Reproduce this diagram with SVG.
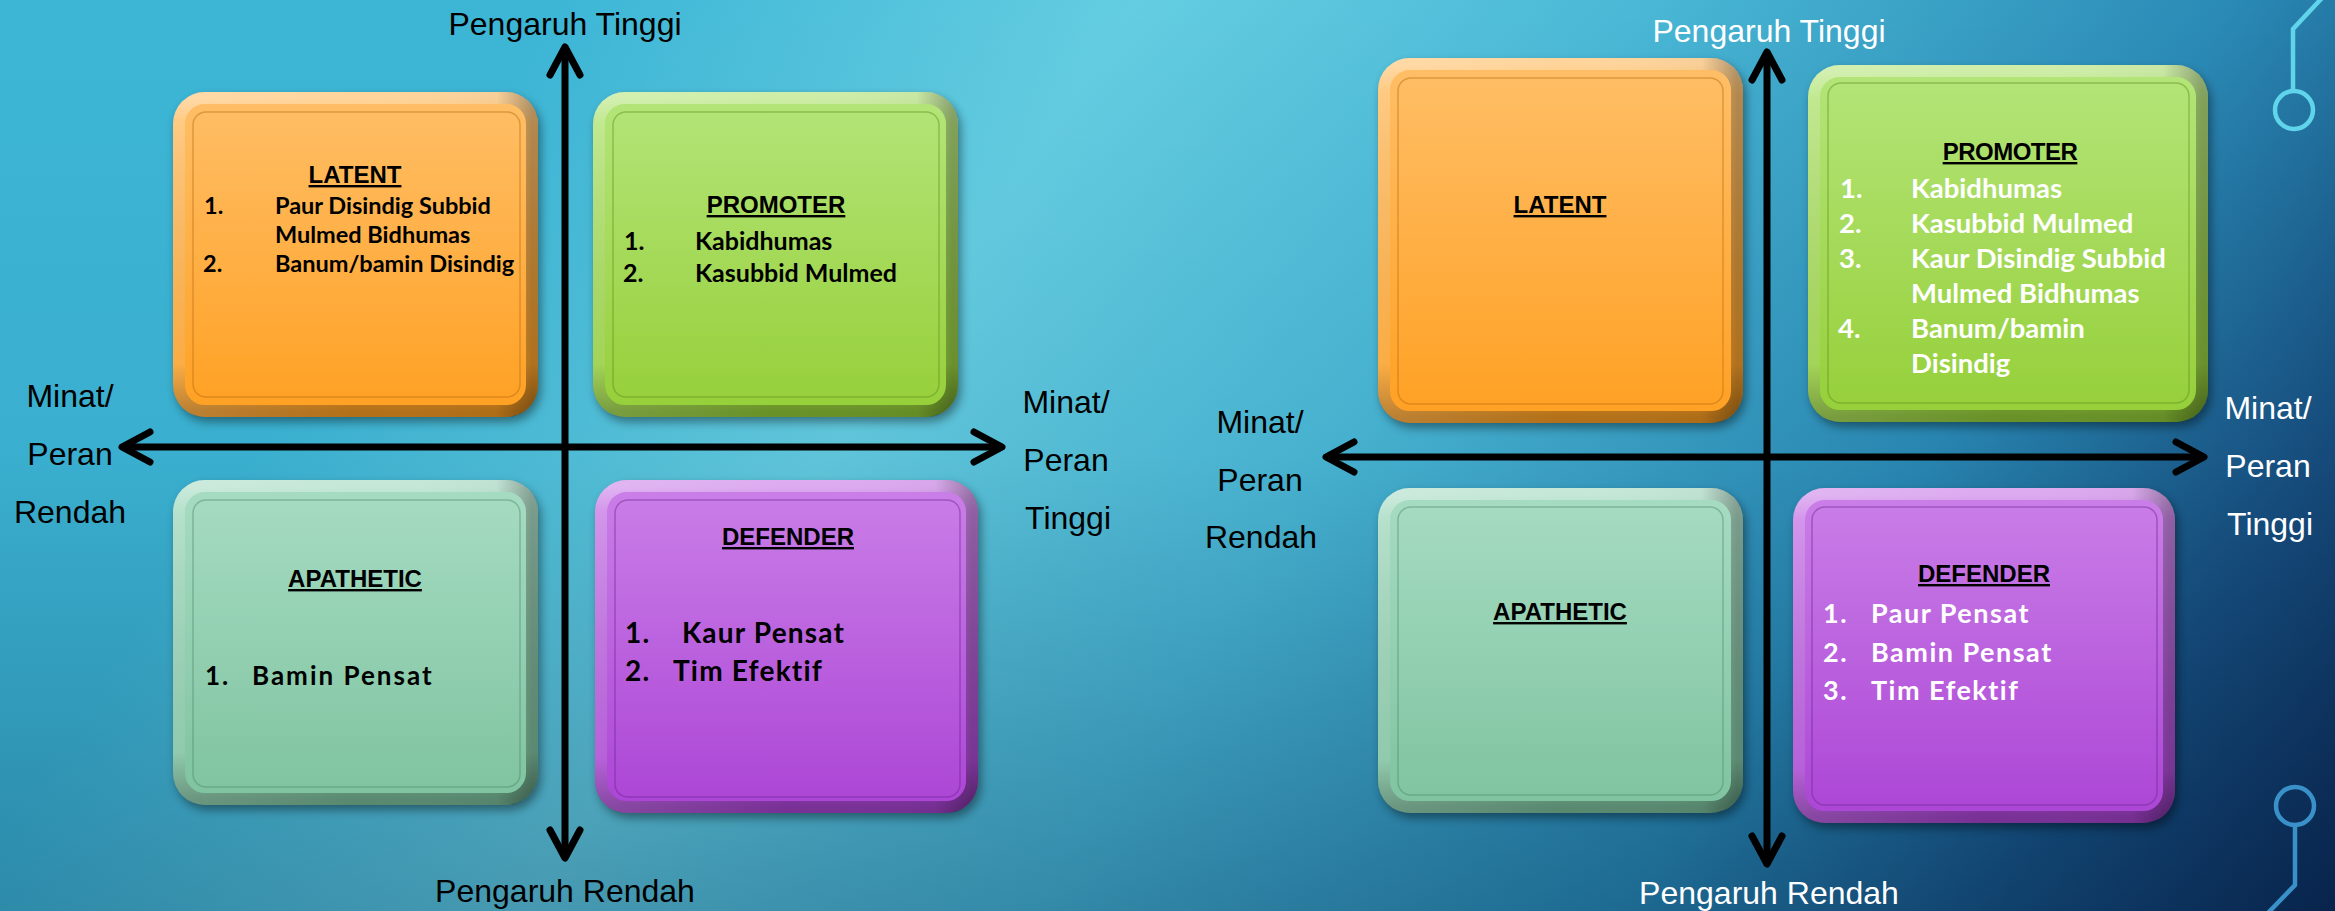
<svg xmlns="http://www.w3.org/2000/svg" width="2335" height="911" viewBox="0 0 2335 911">
<defs>
  <linearGradient id="bg" gradientUnits="userSpaceOnUse" x1="700" y1="-200" x2="2335" y2="911">
    <stop offset="0" stop-color="#3db6d6"/>
    <stop offset="0.24" stop-color="#64cde1"/>
    <stop offset="0.45" stop-color="#4ab8d6"/>
    <stop offset="0.7" stop-color="#2a8ab5"/>
    <stop offset="0.86" stop-color="#174f80"/>
    <stop offset="1" stop-color="#0b2550"/>
  </linearGradient>
  <linearGradient id="bgShade" x1="0" y1="0" x2="0" y2="1">
    <stop offset="0" stop-color="#002040" stop-opacity="0"/>
    <stop offset="0.5" stop-color="#002040" stop-opacity="0.05"/>
    <stop offset="1" stop-color="#002040" stop-opacity="0.3"/>
  </linearGradient>
  <linearGradient id="gOrange" x1="0" y1="0" x2="0" y2="1">
    <stop offset="0" stop-color="#ffbf68"/>
    <stop offset="1" stop-color="#ffa022"/>
  </linearGradient>
  <linearGradient id="gGreen" x1="0" y1="0" x2="0" y2="1">
    <stop offset="0" stop-color="#b4e57a"/>
    <stop offset="1" stop-color="#95cf38"/>
  </linearGradient>
  <linearGradient id="gMint" x1="0" y1="0" x2="0" y2="1">
    <stop offset="0" stop-color="#a7dcc3"/>
    <stop offset="1" stop-color="#7ec39f"/>
  </linearGradient>
  <linearGradient id="gPurple" x1="0" y1="0" x2="0" y2="1">
    <stop offset="0" stop-color="#cb80e8"/>
    <stop offset="1" stop-color="#ab44d5"/>
  </linearGradient>
  <linearGradient id="bevelV" x1="0" y1="0" x2="0" y2="1">
    <stop offset="0" stop-color="#ffffff" stop-opacity="0.35"/>
    <stop offset="0.08" stop-color="#ffffff" stop-opacity="0.1"/>
    <stop offset="0.85" stop-color="#000000" stop-opacity="0.02"/>
    <stop offset="1" stop-color="#000000" stop-opacity="0.3"/>
  </linearGradient>
  <linearGradient id="bevelH" x1="0" y1="0" x2="1" y2="0">
    <stop offset="0" stop-color="#ffffff" stop-opacity="0.12"/>
    <stop offset="0.5" stop-color="#ffffff" stop-opacity="0"/>
    <stop offset="0.9" stop-color="#000000" stop-opacity="0.03"/>
    <stop offset="1" stop-color="#000000" stop-opacity="0.3"/>
  </linearGradient>
  <filter id="shadow" x="-10%" y="-10%" width="130%" height="130%">
    <feGaussianBlur stdDeviation="5"/>
  </filter>
  <marker id="chev" viewBox="-40 -25 50 50" markerWidth="50" markerHeight="50" refX="0" refY="0" orient="auto-start-reverse" markerUnits="userSpaceOnUse">
    <path d="M -28 -15 L 0 0 L -28 15" fill="none" stroke="#000" stroke-width="7" stroke-linecap="round" stroke-linejoin="round"/>
  </marker>
  <style>
    .ax { font-family: "Liberation Sans", Arial, sans-serif; font-size: 32px; }
    .axc { text-anchor: middle; }
    .blk { fill: #000; }
    .wht { fill: #ffffff; }
    .hd { font-family: "Liberation Sans", Arial, sans-serif; font-weight: bold; font-size: 24px; text-anchor: middle; text-decoration: underline; fill: #000; }
    .it { font-family: Lato, "Open Sans", sans-serif; font-weight: bold; }
    .gt { font-family: Lato, "Open Sans", sans-serif; font-weight: bold; letter-spacing: 1.5px; }
    .shd { fill: #000; opacity: 0.4; filter: url(#shadow); }
    .bv { fill: none; stroke: url(#bevelV); stroke-width: 12; }
    .bh { fill: none; stroke: url(#bevelH); stroke-width: 12; }
    .axis { fill: none; stroke: #000; stroke-width: 7; marker-start: url(#chev); marker-end: url(#chev); }
    .circ { fill: none; stroke-width: 4.5; }
  </style>
</defs>

<rect x="0" y="0" width="2335" height="911" fill="url(#bg)"/>
<rect x="0" y="0" width="2335" height="911" fill="url(#bgShade)"/>

<g id="decor">
  <path class="circ" d="M2322 -2 L2293 29 L2293 91" stroke="#5fd4ea"/>
  <circle class="circ" cx="2294" cy="110" r="19" stroke="#5fd4ea"/>
  <circle class="circ" cx="2295" cy="806" r="19" stroke="#3a90c8"/>
  <path class="circ" d="M2295 825 L2295 885 L2266 915" stroke="#3a90c8"/>
</g>

<!-- LEFT DIAGRAM -->
<g id="L-latent">
  <rect class="shd" x="176" y="97" width="365" height="325" rx="32"/>
  <rect x="173" y="92" width="365" height="325" rx="32" fill="url(#gOrange)"/>
  <rect class="bv" x="179" y="98" width="353" height="313" rx="26"/>
  <rect class="bh" x="179" y="98" width="353" height="313" rx="26"/>
  <rect x="193" y="112" width="327" height="285" rx="13" fill="none" stroke="#b36a10" stroke-opacity="0.45" stroke-width="1.5"/>
  <text class="hd" x="355" y="183">LATENT</text>
  <g class="it blk" font-size="23.5">
    <text x="204" y="214">1.</text><text x="275" y="214">Paur Disindig Subbid</text>
    <text x="275" y="243">Mulmed Bidhumas</text>
    <text x="203" y="272">2.</text><text x="275" y="272">Banum/bamin Disindig</text>
  </g>
</g>

<g id="L-promoter">
  <rect class="shd" x="596" y="97" width="365" height="325" rx="32"/>
  <rect x="593" y="92" width="365" height="325" rx="32" fill="url(#gGreen)"/>
  <rect class="bv" x="599" y="98" width="353" height="313" rx="26"/>
  <rect class="bh" x="599" y="98" width="353" height="313" rx="26"/>
  <rect x="613" y="112" width="326" height="285" rx="13" fill="none" stroke="#5e8f1c" stroke-opacity="0.45" stroke-width="1.5"/>
  <text class="hd" x="776" y="213" font-size="26">PROMOTER</text>
  <g class="it blk" font-size="25">
    <text x="624" y="250">1.</text><text x="695" y="250">Kabidhumas</text>
    <text x="623" y="282">2.</text><text x="695" y="282">Kasubbid Mulmed</text>
  </g>
</g>

<g id="L-apathetic">
  <rect class="shd" x="176" y="485" width="365" height="325" rx="32"/>
  <rect x="173" y="480" width="365" height="325" rx="32" fill="url(#gMint)"/>
  <rect class="bv" x="179" y="486" width="353" height="313" rx="26"/>
  <rect class="bh" x="179" y="486" width="353" height="313" rx="26"/>
  <rect x="193" y="500" width="327" height="287" rx="13" fill="none" stroke="#4d8a6a" stroke-opacity="0.45" stroke-width="1.5"/>
  <text class="hd" x="355" y="587">APATHETIC</text>
  <g class="gt blk" font-size="26" style="letter-spacing:2px">
    <text x="205" y="685">1.</text><text x="252" y="685">Bamin Pensat</text>
  </g>
</g>

<g id="L-defender">
  <rect class="shd" x="598" y="485" width="383" height="333" rx="32"/>
  <rect x="595" y="480" width="383" height="333" rx="32" fill="url(#gPurple)"/>
  <rect class="bv" x="601" y="486" width="371" height="321" rx="26"/>
  <rect class="bh" x="601" y="486" width="371" height="321" rx="26"/>
  <rect x="615" y="500" width="345" height="297" rx="13" fill="none" stroke="#6d2590" stroke-opacity="0.45" stroke-width="1.5"/>
  <text class="hd" x="788" y="545">DEFENDER</text>
  <g class="gt blk" font-size="28" style="letter-spacing:1.2px">
    <text x="625" y="643">1.</text><text x="682" y="643">Kaur Pensat</text>
    <text x="625" y="681">2.</text><text x="673" y="681">Tim Efektif</text>
  </g>
</g>

<!-- RIGHT DIAGRAM -->
<g id="R-latent">
  <rect class="shd" x="1381" y="63" width="365" height="365" rx="32"/>
  <rect x="1378" y="58" width="365" height="365" rx="32" fill="url(#gOrange)"/>
  <rect class="bv" x="1384" y="64" width="353" height="353" rx="26"/>
  <rect class="bh" x="1384" y="64" width="353" height="353" rx="26"/>
  <rect x="1398" y="78" width="325" height="326" rx="13" fill="none" stroke="#b36a10" stroke-opacity="0.45" stroke-width="1.5"/>
  <text class="hd" x="1560" y="213">LATENT</text>
</g>

<g id="R-promoter">
  <rect class="shd" x="1811" y="70" width="400" height="357" rx="32"/>
  <rect x="1808" y="65" width="400" height="357" rx="32" fill="url(#gGreen)"/>
  <rect class="bv" x="1814" y="71" width="388" height="345" rx="26"/>
  <rect class="bh" x="1814" y="71" width="388" height="345" rx="26"/>
  <rect x="1828" y="83" width="361" height="320" rx="13" fill="none" stroke="#5e8f1c" stroke-opacity="0.45" stroke-width="1.5"/>
  <text class="hd" x="2010" y="160" font-size="21" style="letter-spacing:-0.5px">PROMOTER</text>
  <g class="it wht" font-size="27.5">
    <text x="1840" y="198">1.</text><text x="1911" y="198">Kabidhumas</text>
    <text x="1839" y="233">2.</text><text x="1911" y="233">Kasubbid Mulmed</text>
    <text x="1839" y="268">3.</text><text x="1911" y="268">Kaur Disindig Subbid</text>
    <text x="1911" y="303">Mulmed Bidhumas</text>
    <text x="1838" y="338">4.</text><text x="1911" y="338">Banum/bamin</text>
    <text x="1911" y="373">Disindig</text>
  </g>
</g>

<g id="R-apathetic">
  <rect class="shd" x="1381" y="493" width="365" height="325" rx="32"/>
  <rect x="1378" y="488" width="365" height="325" rx="32" fill="url(#gMint)"/>
  <rect class="bv" x="1384" y="494" width="353" height="313" rx="26"/>
  <rect class="bh" x="1384" y="494" width="353" height="313" rx="26"/>
  <rect x="1398" y="507" width="325" height="288" rx="13" fill="none" stroke="#4d8a6a" stroke-opacity="0.45" stroke-width="1.5"/>
  <text class="hd" x="1560" y="620">APATHETIC</text>
</g>

<g id="R-defender">
  <rect class="shd" x="1796" y="493" width="382" height="335" rx="32"/>
  <rect x="1793" y="488" width="382" height="335" rx="32" fill="url(#gPurple)"/>
  <rect class="bv" x="1799" y="494" width="370" height="323" rx="26"/>
  <rect class="bh" x="1799" y="494" width="370" height="323" rx="26"/>
  <rect x="1812" y="507" width="345" height="298" rx="13" fill="none" stroke="#6d2590" stroke-opacity="0.45" stroke-width="1.5"/>
  <text class="hd" x="1984" y="582">DEFENDER</text>
  <g class="gt wht" font-size="27">
    <text x="1823" y="623">1.</text><text x="1871" y="623">Paur Pensat</text>
    <text x="1823" y="662">2.</text><text x="1871" y="662">Bamin Pensat</text>
    <text x="1823" y="700">3.</text><text x="1871" y="700">Tim Efektif</text>
  </g>
</g>

<g id="connectors">
  <path class="axis" d="M565 858 L565 47"/>
  <path class="axis" d="M122 447 L1002 447"/>
  <path class="axis" d="M1767 864 L1767 52"/>
  <path class="axis" d="M1326 457 L2204 457"/>
</g>

<g id="axis-labels">
  <text class="ax axc blk" x="565" y="35">Pengaruh Tinggi</text>
  <text class="ax axc blk" x="565" y="902">Pengaruh Rendah</text>
  <text class="ax axc blk" x="70" y="407">Minat/</text>
  <text class="ax axc blk" x="70" y="465">Peran</text>
  <text class="ax axc blk" x="70" y="523">Rendah</text>
  <text class="ax axc blk" x="1066" y="413">Minat/</text>
  <text class="ax axc blk" x="1066" y="471">Peran</text>
  <text class="ax axc blk" x="1068" y="529">Tinggi</text>

  <text class="ax axc wht" x="1769" y="42">Pengaruh Tinggi</text>
  <text class="ax axc wht" x="1769" y="904">Pengaruh Rendah</text>
  <text class="ax axc blk" x="1260" y="433">Minat/</text>
  <text class="ax axc blk" x="1260" y="491">Peran</text>
  <text class="ax axc blk" x="1261" y="548">Rendah</text>
  <text class="ax axc wht" x="2268" y="419">Minat/</text>
  <text class="ax axc wht" x="2268" y="477">Peran</text>
  <text class="ax axc wht" x="2270" y="535">Tinggi</text>
</g>
</svg>
